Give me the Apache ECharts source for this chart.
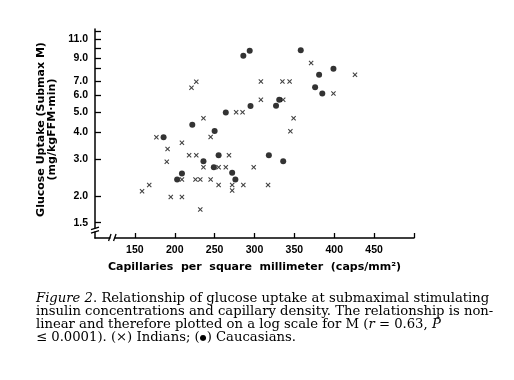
<!DOCTYPE html>
<html><head><meta charset="utf-8">
<script src="https://cdn.jsdelivr.net/npm/echarts@6/dist/echarts.min.js"></script>
<style>html,body{margin:0;padding:0;background:#fff}#c{width:514px;height:380px}</style>
</head><body><div id="c"></div>
<script>
// Caucasians (filled dots)
const caucasianCaps = [186,222,250,264,295,286,294,209,203,236,255,249,272,276,358,399,381,376,385,331,327,318,336];
const caucasianM = [3.79,4.35,4.06,4.96,5.33,9.2,9.7,2.56,2.40,2.92,3.12,2.74,2.58,2.40,9.77,7.98,7.48,6.54,6.10,5.70,5.34,3.12,2.92];
// Indians (x)
const indianCaps = [177,227,221,236,245,277,285,209,191,218,227,268,190,236,255,264,299,209,226,232,245,168,255,272,286,272,159,195,209,232,371,426,308,335,344,399,308,336,349,345,317];
const indianM = [3.79,6.93,6.49,4.66,3.80,4.98,4.98,3.57,3.34,3.12,3.12,3.12,2.91,2.74,2.74,2.74,2.74,2.40,2.40,2.40,2.40,2.26,2.26,2.26,2.26,2.13,2.11,1.98,1.98,1.73,8.49,7.48,6.95,6.95,6.96,6.10,5.70,5.70,4.66,4.05,2.26];
// Axis ticks and labels
const xTicks = [150,200,250,300,350,400,450,500];
const xLabels = [150,200,250,300,350,400,450];
const yTicks = [1.5,2,3,4,5,6,7,8,9,10,11,12];
const yLabels = [1.5,2,3,4,5,6,7,9,11];
const xTitle = 'Capillaries  per  square  millimeter  (caps/mm²)';
const yTitle = 'Glucose Uptake (Submax M)\n(mg/kgFFM·min)';
const captionLines = [
  '{i|Figure 2}. Relationship of glucose uptake at submaximal stimulating',
  'insulin concentrations and capillary density. The relationship is non-',
  'linear and therefore plotted on a log scale for M ({i|r} = 0.63, {i|P}',
  '≤ 0.0001). (×) Indians; ({d|●}) Caucasians.'
];

const zip = (a, b) => a.map((v, i) => [v, b[i]]);
const sans = 'Liberation Sans';
const wide = 'DejaVu Sans';
const serif = 'DejaVu Serif';
const capSize = 13.2;
const X_PATH = 'path://M0,1.5 L1.5,0 L5,3.5 L8.5,0 L10,1.5 L6.5,5 L10,8.5 L8.5,10 L5,6.5 L1.5,10 L0,8.5 L3.5,5 Z';

const chart = echarts.init(document.getElementById('c'), null, {renderer: 'canvas'});
chart.setOption({
  backgroundColor: '#fff',
  animation: false,
  grid: {left: 95, right: 100, top: 29, bottom: 142, containLabel: false},
  xAxis: {
    type: 'value', min: 100, max: 500,
    axisLine: {show: true, onZero: false, lineStyle: {color: '#000', width: 1.5}},
    axisTick: {show: true, inside: true, length: 5, lineStyle: {color: '#000', width: 1.3}, customValues: xTicks},
    axisLabel: {customValues: xLabels, margin: 7, color: '#000', fontFamily: sans, fontWeight: 'bold', fontSize: 10.5},
    splitLine: {show: false},
    name: xTitle, nameLocation: 'middle', nameGap: 24,
    nameTextStyle: {color: '#000', fontFamily: wide, fontWeight: 'bold', fontSize: 11}
  },
  yAxis: {
    type: 'log', logBase: 10, min: 1.27, max: 12.3,
    axisLine: {show: true, onZero: false, lineStyle: {color: '#000', width: 1.5}},
    axisTick: {show: true, inside: true, length: 6, lineStyle: {color: '#000', width: 1.3}, customValues: yTicks},
    axisLabel: {customValues: yLabels, margin: 7, color: '#000', fontFamily: sans, fontWeight: 'bold', fontSize: 10.5,
      formatter: v => Number(v).toFixed(1)},
    splitLine: {show: false},
    name: yTitle, nameLocation: 'middle', nameGap: 32.5, nameRotate: 90,
    nameTextStyle: {color: '#000', fontFamily: wide, fontWeight: 'bold', fontSize: 11, lineHeight: 11, padding: [0, 0, 0, 8]}
  },
  series: [
    {name: 'Indians', type: 'scatter', data: zip(indianCaps, indianM), symbol: X_PATH, symbolSize: [5, 5],
      itemStyle: {color: '#111'}},
    {name: 'Caucasians', type: 'scatter', data: zip(caucasianCaps, caucasianM), symbol: 'circle', symbolSize: 6,
      itemStyle: {color: '#000'}}
  ]
});

// axis break decorations, placed through the axes' own scales
const yb = chart.convertToPixel({gridIndex: 0}, [100, 1.385]);
const xb = chart.convertToPixel({gridIndex: 0}, [122, 1.27]);
const stroke = {stroke: '#000', lineWidth: 1.3};
const g = [
  {type: 'rect', shape: {x: yb[0] - 2, y: yb[1] - 1.5, width: 4, height: 3}, style: {fill: '#fff'}, z: 100},
  {type: 'line', shape: {x1: yb[0] - 4, y1: yb[1] - 0.5, x2: yb[0] + 4, y2: yb[1] - 3}, style: stroke, z: 101},
  {type: 'line', shape: {x1: yb[0] - 4, y1: yb[1] + 3, x2: yb[0] + 4, y2: yb[1] + 0.5}, style: stroke, z: 101},
  {type: 'rect', shape: {x: xb[0] - 2, y: xb[1] - 2, width: 4, height: 4}, style: {fill: '#fff'}, z: 100},
  {type: 'line', shape: {x1: xb[0] - 4, y1: xb[1] + 3, x2: xb[0] - 1.5, y2: xb[1] - 4}, style: stroke, z: 101},
  {type: 'line', shape: {x1: xb[0] + 1, y1: xb[1] + 3, x2: xb[0] + 3.5, y2: xb[1] - 4}, style: stroke, z: 101}
];
captionLines.forEach((t, i) => {
  g.push({type: 'text', left: 36, top: 292 + i * 12.9, z: 100,
    style: {text: t, fill: '#000', fontFamily: serif, fontSize: capSize, lineHeight: 14,
      rich: {
        i: {fontStyle: 'italic', fontFamily: serif, fontSize: capSize, lineHeight: 14},
        d: {fontFamily: serif, fontSize: 8, lineHeight: 14, verticalAlign: 'middle'}
      }}});
});
chart.setOption({graphic: g});
</script>
</body></html>
